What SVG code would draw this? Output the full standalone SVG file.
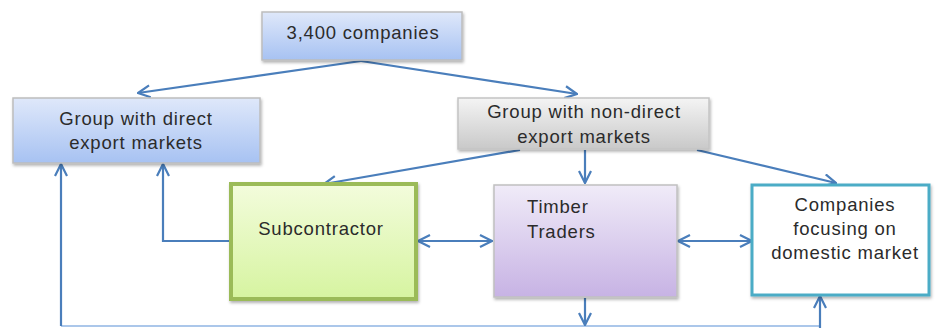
<svg xmlns="http://www.w3.org/2000/svg" width="935" height="328" viewBox="0 0 935 328">
<style>
.t{font-family:"Liberation Sans",Arial,sans-serif;font-size:18.5px;letter-spacing:0.8px;fill:#2b2b2b}
.c{text-anchor:middle}
.ln{fill:none;stroke:#4a7ebb;stroke-width:2.2}
.ln2{fill:none;stroke:#8fb4e3;stroke-width:1.5}
</style>
<defs>
<marker id="ah" viewBox="0 0 14 14" refX="13" refY="7" markerWidth="14" markerHeight="14" markerUnits="userSpaceOnUse" orient="auto-start-reverse">
<path d="M1,1 L13,7 L1,13" fill="none" stroke="#4a7ebb" stroke-width="2.2"/>
</marker>
<linearGradient id="gb" x1="0" y1="0" x2="0" y2="1"><stop offset="0" stop-color="#dfe8fa"/><stop offset="1" stop-color="#a7c2f2"/></linearGradient>
<linearGradient id="gg" x1="0" y1="0" x2="0" y2="1"><stop offset="0" stop-color="#f4f4f4"/><stop offset="1" stop-color="#c9c9c9"/></linearGradient>
<linearGradient id="gr" x1="0" y1="0" x2="0" y2="1"><stop offset="0" stop-color="#f3fcdc"/><stop offset="1" stop-color="#d6f4a0"/></linearGradient>
<linearGradient id="gp" x1="0" y1="0" x2="0" y2="1"><stop offset="0" stop-color="#f0ebf8"/><stop offset="1" stop-color="#c7b3e4"/></linearGradient>
<filter id="sh" x="-5%" y="-5%" width="115%" height="125%"><feDropShadow dx="1" dy="2" stdDeviation="1.5" flood-color="#000" flood-opacity="0.3"/></filter>
</defs>
<g id="connectors">
<path class="ln" d="M361,61 L138,93" marker-end="url(#ah)"/>
<path class="ln" d="M361,61 L577,94" marker-end="url(#ah)"/>
<path class="ln" d="M520,150 L324,184" marker-end="url(#ah)"/>
<path class="ln" d="M585,150 L585,183" marker-end="url(#ah)"/>
<path class="ln" d="M697,150 L836,183" marker-end="url(#ah)"/>
<path class="ln" d="M230,241 L163,241 L163,164" marker-end="url(#ah)"/>
<path class="ln" d="M418,241 L492,241" marker-start="url(#ah)" marker-end="url(#ah)"/>
<path class="ln" d="M678,241 L752,241" marker-start="url(#ah)" marker-end="url(#ah)"/>
<path class="ln2" d="M61,326 L820,326"/>
<path class="ln" d="M61,326 L61,164" marker-end="url(#ah)"/>
<path class="ln" d="M585,298 L585,325" marker-end="url(#ah)"/>
<path class="ln" d="M820,328 L820,296" marker-end="url(#ah)"/>
</g>
<g id="n-top">
<rect x="262" y="12" width="200" height="48" fill="url(#gb)" stroke="#bdbdbd" stroke-width="1.5" filter="url(#sh)"/>
<text class="t c" x="363" y="39">3,400 companies</text>
</g>
<g id="n-direct">
<rect x="13" y="98" width="247" height="65" fill="url(#gb)" stroke="#bdbdbd" stroke-width="1.5" filter="url(#sh)"/>
<text class="t c" x="136" y="125">Group with direct</text>
<text class="t c" x="136" y="149">export markets</text>
</g>
<g id="n-nondirect">
<rect x="458" y="98" width="251" height="51" fill="url(#gg)" stroke="#c4c4c4" stroke-width="1.5" filter="url(#sh)"/>
<text class="t c" x="584" y="118">Group with non-direct</text>
<text class="t c" x="584" y="143">export markets</text>
</g>
<g id="n-sub">
<rect x="231" y="184" width="185" height="115" fill="url(#gr)" stroke="#9bbb59" stroke-width="4" filter="url(#sh)"/>
<text class="t c" x="321" y="235">Subcontractor</text>
</g>
<g id="n-timber">
<rect x="494" y="185" width="183" height="112" fill="url(#gp)" stroke="#c0c0c0" stroke-width="1.5" filter="url(#sh)"/>
<text class="t" x="527" y="213">Timber</text>
<text class="t" x="527" y="238">Traders</text>
</g>
<g id="n-domestic">
<rect x="752" y="185" width="177" height="110" fill="#fff" stroke="#4bacc6" stroke-width="3" filter="url(#sh)"/>
<text class="t c" x="845" y="211">Companies</text>
<text class="t c" x="845" y="235">focusing on</text>
<text class="t c" x="845" y="259">domestic market</text>
</g>
</svg>
